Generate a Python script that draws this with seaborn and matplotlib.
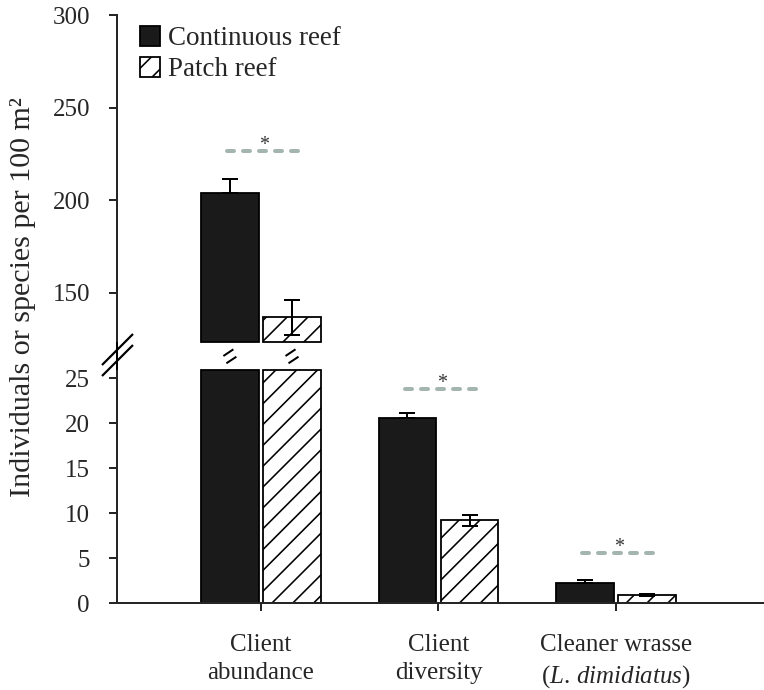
import matplotlib

matplotlib.use("Agg")

import matplotlib.pyplot as plt  # noqa: E402
import pandas as pd  # noqa: E402
import seaborn as sns  # noqa: E402
from matplotlib.lines import Line2D  # noqa: E402

# data (means and standard errors per 100 m2)
CATEGORIES = [
    "Client\nabundance",
    "Client\ndiversity",
    "Cleaner wrasse\n($\\mathit{L.\\,dimidiatus}$)",
]
REEFS = ["Continuous reef", "Patch reef"]
CONTINUOUS_MEAN = [204.0, 20.6, 2.2]
CONTINUOUS_SE = [7.5, 0.5, 0.4]
PATCH_MEAN = [136.7, 9.2, 0.85]
PATCH_SE = [9.5, 0.6, 0.1]
SIG_Y = [226.8, 23.8, 5.6]  # height of the dashed "*" lines
LOWER_TICKS = [0, 5, 10, 15, 20, 25]
UPPER_TICKS = [150, 200, 250, 300]
YLABEL = "Individuals or species per 100 m\u00b2"

W, H, DPI = 764, 690, 125
LOWER_LIM = (0, 25.9)
UPPER_LIM = (123.4, 300)
XLIM = (-0.811, 2.834)
PALETTE = {"Continuous reef": "#1a1a1a", "Patch reef": "white"}
SIG_COLOR = "#a3b5ae"


def px(v):
    """pixels -> points at the output dpi"""
    return v * 72.0 / DPI


def fig_line(fig, x0, y0, x1, y1, lw=2.0):
    # coordinates given in image pixels, origin top-left
    fig.add_artist(
        Line2D(
            [x0 / W, x1 / W],
            [1 - y0 / H, 1 - y1 / H],
            transform=fig.transFigure,
            color="black",
            lw=px(lw),
            solid_capstyle="butt",
        )
    )


sns.set_theme(style="ticks")
plt.rcParams["font.family"] = ["Liberation Serif", "DejaVu Serif"]
plt.rcParams["mathtext.fontset"] = "custom"
plt.rcParams["mathtext.rm"] = "Liberation Serif"
plt.rcParams["mathtext.it"] = "Liberation Serif:italic"
plt.rcParams["hatch.linewidth"] = px(1.6)
plt.rcParams["hatch.color"] = "black"

df = pd.DataFrame(
    {
        "category": CATEGORIES * 2,
        "reef": [REEFS[0]] * len(CATEGORIES) + [REEFS[1]] * len(CATEGORIES),
        "mean": CONTINUOUS_MEAN + PATCH_MEAN,
    }
)

fig = plt.figure(figsize=(W / DPI, H / DPI), dpi=DPI)
ax_top = fig.add_axes([117 / W, 1 - 342 / H, (W - 117) / W, (342 - 15) / H])
ax_lo = fig.add_axes([117 / W, 1 - 603 / H, (W - 117) / W, (603 - 370) / H])

bar_sets = {}
for ax in (ax_top, ax_lo):
    sns.barplot(
        data=df,
        x="category",
        y="mean",
        hue="reef",
        hue_order=REEFS,
        order=CATEGORIES,
        palette=PALETTE,
        width=0.70,
        gap=0.07,
        saturation=1,
        errorbar=None,
        edgecolor="black",
        linewidth=px(1.8),
        legend=False,
        ax=ax,
    )
    bars = list(ax.containers[:2])
    bar_sets[ax] = bars
    for bar in bars[1]:
        bar.set_hatch("//")

    # continuous bars are black, only the upper whisker shows
    for k, (cont, se) in enumerate(zip(bars, (CONTINUOUS_SE, PATCH_SE))):
        xs = [b.get_x() + b.get_width() / 2 for b in cont]
        ys = [b.get_height() for b in cont]
        yerr = [[0] * len(se), se] if k == 0 else se
        ax.errorbar(
            xs, ys, yerr=yerr, fmt="none", ecolor="black",
            elinewidth=px(2), capsize=px(8), capthick=px(2), zorder=3,
        )

    ax.set_xlim(*XLIM)
    ax.set_xlabel("")
    ax.set_ylabel("")
    for side in ("top", "right"):
        ax.spines[side].set_visible(False)
    for sp in ax.spines.values():
        sp.set_linewidth(px(2))
    ax.tick_params(axis="y", length=px(8), width=px(2), pad=px(19), labelsize=px(25))

# upper panel: bars start at the break
lo = UPPER_LIM[0]
for cont in bar_sets[ax_top]:
    for bar in cont:
        h = bar.get_height()
        if h <= lo:
            bar.set_visible(False)
        else:
            bar.set_y(lo)
            bar.set_height(h - lo)
            bar.set_clip_on(False)
ax_top.set_ylim(*UPPER_LIM)
ax_top.set_yticks(UPPER_TICKS)
ax_top.spines["bottom"].set_visible(False)
ax_top.tick_params(axis="x", bottom=False, labelbottom=False)

# lower panel: bars cut at the break
hi = LOWER_LIM[1]
for cont in bar_sets[ax_lo]:
    for bar in cont:
        bar.set_height(min(bar.get_height(), hi))
        bar.set_clip_on(False)
ax_lo.set_ylim(*LOWER_LIM)
ax_lo.set_yticks(LOWER_TICKS)
ax_lo.tick_params(axis="x", length=px(8), width=px(2), pad=px(23), labelsize=px(25))
for lab in ax_lo.get_xticklabels():
    lab.set_linespacing(1.38)

# significance lines with asterisks
for i, y in enumerate(SIG_Y):
    ax = ax_top if y > LOWER_LIM[1] else ax_lo
    ax.plot(
        [i + 0.02 - 0.21, i + 0.02 + 0.21], [y, y],
        color=SIG_COLOR, lw=px(4), dashes=(1.75, 2.25),
        dash_capstyle="round", zorder=4, clip_on=False,
    )
    ax.annotate(
        "*", xy=(i + 0.02, y), xytext=(0, px(1)), textcoords="offset points",
        ha="center", va="baseline", fontsize=px(20), color="#333333",
    )

ax_top.legend(
    bar_sets[ax_top],
    REEFS,
    loc="upper left",
    bbox_to_anchor=((140 - 117) / (W - 117), 1 - (26 - 15) / (342 - 15)),
    frameon=False,
    borderpad=0,
    borderaxespad=0,
    handlelength=0.74,
    handleheight=0.74,
    handletextpad=0.3,
    labelspacing=0.22,
    fontsize=px(27),
)

# axis break: spine joint and slashes
fig_line(fig, 117, 342, 117, 370)
fig_line(fig, 102, 365, 133, 334, lw=2.2)
fig_line(fig, 102, 376, 133, 345, lw=2.2)

# slashes on the interrupted bars
for cont in bar_sets[ax_top]:
    bar = cont.patches[0]
    cx = ax_lo.transData.transform((bar.get_x() + bar.get_width() / 2, 0))[0]
    fig_line(fig, cx - 6.5, 356, cx + 3.5, 349.3)
    fig_line(fig, cx - 3.5, 363.3, cx + 6.5, 356.7)

fig.text(
    23 / W, 1 - 297 / H, YLABEL, rotation=90, ha="center", va="center",
    fontsize=px(30),
)

fig.savefig("out.png", dpi=DPI)
